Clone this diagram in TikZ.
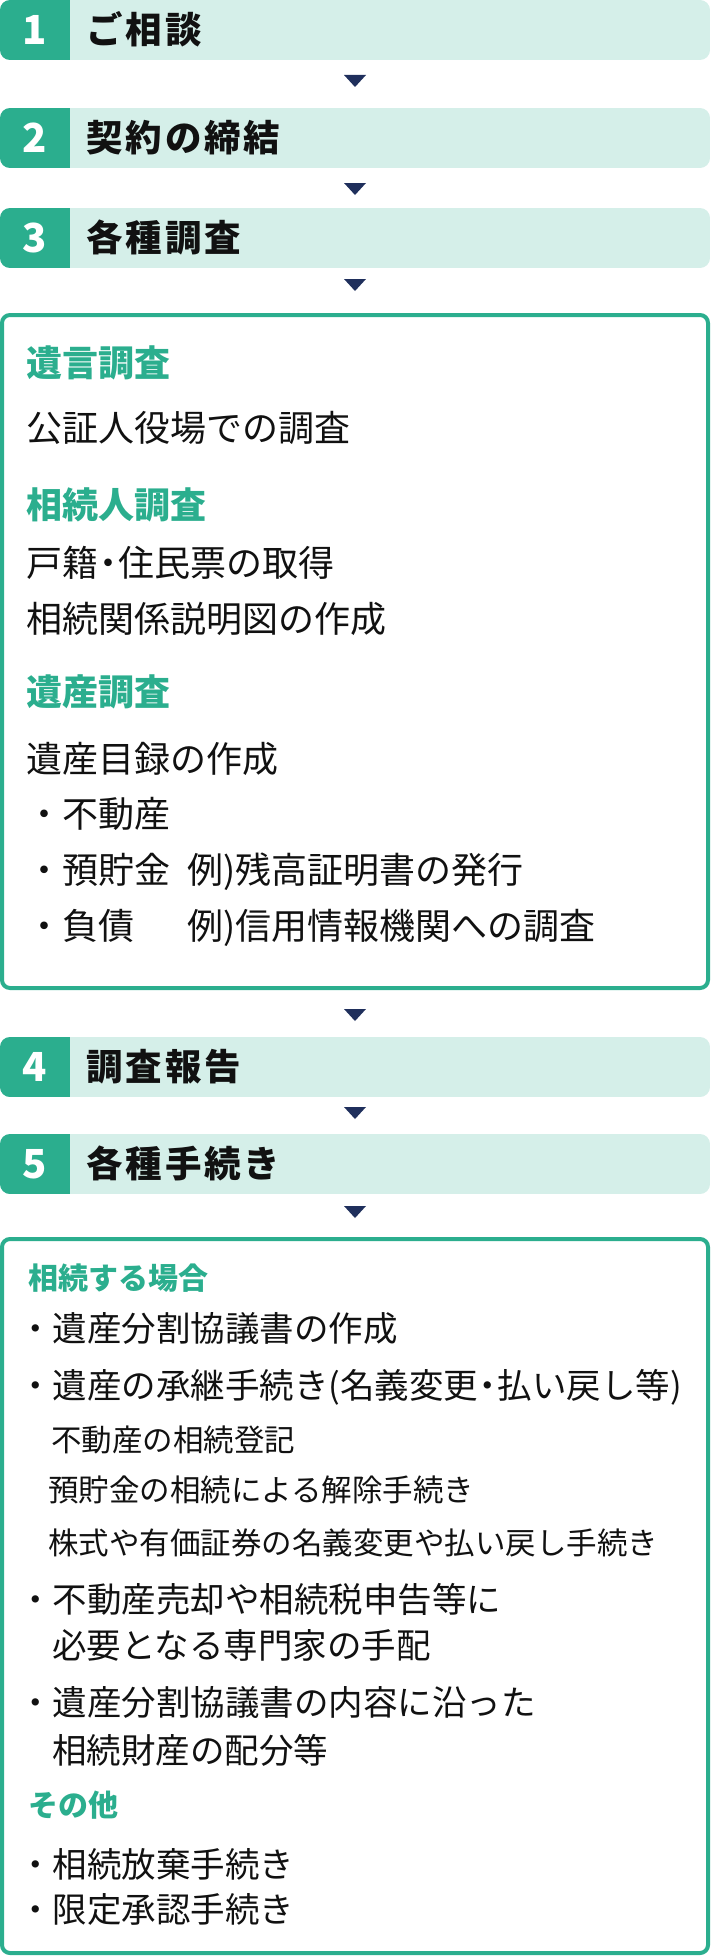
\documentclass[tikz,border=0pt]{standalone}
\usepackage{fontspec}
\setmainfont{Noto Sans CJK JP}
\newfontfamily\barfont{Noto Sans CJK JP}[LetterSpace=8]
\definecolor{keygreen}{HTML}{2BAE8E}
\definecolor{mint}{HTML}{D5EFE9}
\definecolor{navy}{HTML}{1F2F5C}
\definecolor{ink}{HTML}{111111}
\newcommand{\nakaguro}{\kern-0.22em・\kern-0.22em}

\begin{document}
\begin{tikzpicture}[x=1pt, y=-1pt,
    numlabel/.style={text=white, inner sep=0, font=\bfseries\fontsize{40}{40}\selectfont},
    bartitle/.style={anchor=base west, inner sep=0, text=ink, font=\barfont\bfseries\fontsize{36.5}{40}\selectfont},
    headtext/.style={anchor=base west, inner sep=0, text=keygreen, font=\bfseries\fontsize{36}{40}\selectfont},
    bodytext/.style={anchor=base west, inner sep=0, text=ink, font=\fontsize{36}{40}\selectfont},
    subhead/.style={anchor=base west, inner sep=0, text=keygreen, font=\bfseries\fontsize{30}{34}\selectfont},
    itemtext/.style={anchor=base west, inner sep=0, text=ink, font=\fontsize{34.5}{38}\selectfont},
    subitem/.style={anchor=base west, inner sep=0, text=ink, font=\fontsize{30.5}{34}\selectfont},
    framebox/.style={draw=keygreen, line width=4pt, rounded corners=8pt}]
    \useasboundingbox (0,0) rectangle (710,1956);

    % Step bars
    \foreach \n/\y/\t in {1/0/ご相談, 2/108/契約の締結, 3/208/各種調査, 4/1037/調査報告, 5/1134/各種手続き} {
        \begin{scope}
            \clip[rounded corners=10pt] (0,\y) rectangle (710,\y+60);
            \fill[mint] (0,\y) rectangle (710,\y+60);
            \fill[keygreen] (0,\y) rectangle (70,\y+60);
        \end{scope}
        \node[numlabel] (num\n) at (35,\y+30) {\n};
        \node[bartitle] (title\n) at (86,\y+43.9) {\t};
    }

    % Triangles between the steps
    \foreach \y in {75,183,279,1009,1107,1206} {
        \fill[navy] (344,\y) -- (366,\y) -- (355,\y+12) -- cycle;
    }

    % Box of step 3
    \draw[framebox] (2,315) rectangle (708,988);
    \node[headtext] (will) at (26,376.7) {遺言調査};
    \node[bodytext] (notary) at (26,441.7) {公証人役場での調査};
    \node[headtext] (heirs) at (26,518.7) {相続人調査};
    \node[bodytext] (register) at (26,576.7) {戸籍\nakaguro 住民票の取得};
    \node[bodytext] (chart) at (26,632.2) {相続関係説明図の作成};
    \node[headtext] (estate) at (26,705.2) {遺産調査};
    \node[bodytext] (inventory) at (26,772.2) {遺産目録の作成};
    \node[bodytext] (land) at (26,827.7) {・不動産};
    \node[bodytext] (savings) at (26,883.7) {\makebox[161pt][l]{・預貯金}例)残高証明書の発行};
    \node[bodytext] (debts) at (26,939.2) {\makebox[161pt][l]{・負債}例)信用情報機関への調査};

    % Box of step 5
    \draw[framebox] (2,1239) rectangle (708,1953);
    \node[subhead] (inherit) at (28,1289.9) {相続する場合};
    \node[itemtext] (split) at (18,1341.6) {・遺産分割協議書の作成};
    \node[itemtext] (transfer) at (18,1398.1) {・遺産の承継手続き(名義変更\nakaguro 払い戻し等)};
    \node[subitem] (landreg) at (51,1451.1) {不動産の相続登記};
    \node[subitem] (release) at (48,1501.6) {預貯金の相続による解除手続き};
    \node[subitem] (stocks) at (48,1554.1) {株式や有価証券の名義変更や払い戻し手続き};
    \node[itemtext] (experts) at (18,1612.1) {・不動産売却や相続税申告等に};
    \node[itemtext] (experts2) at (52,1658.1) {必要となる専門家の手配};
    \node[itemtext] (share) at (18,1715.1) {・遺産分割協議書の内容に沿った};
    \node[itemtext] (share2) at (52,1763.1) {相続財産の配分等};
    \node[subhead] (other) at (28,1816.4) {その他};
    \node[itemtext] (renounce) at (18,1877.1) {・相続放棄手続き};
    \node[itemtext] (limited) at (18,1922.1) {・限定承認手続き};
\end{tikzpicture}
\end{document}
